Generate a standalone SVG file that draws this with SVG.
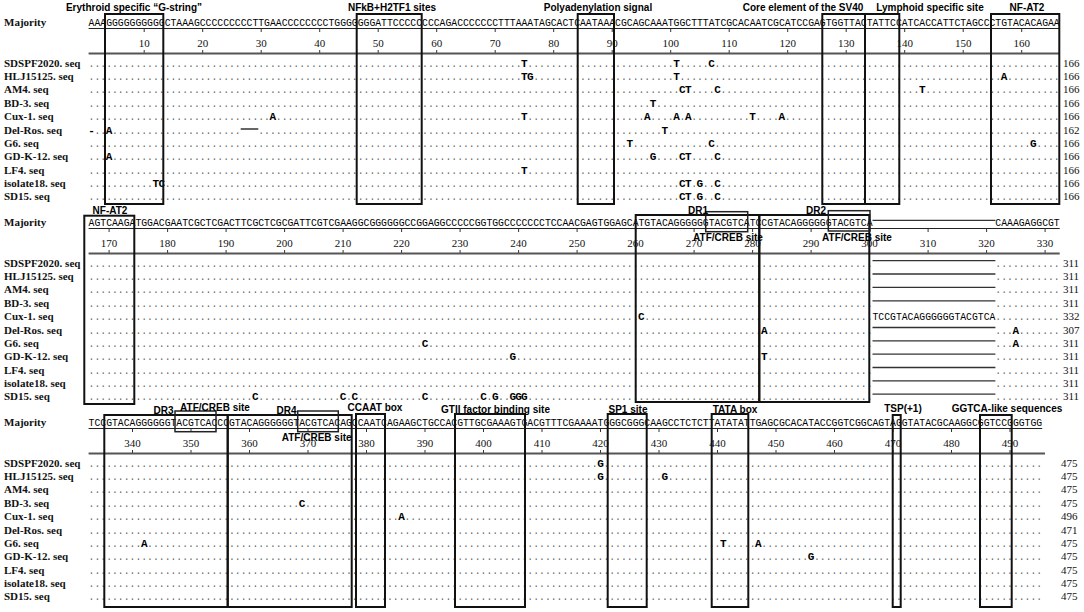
<svg xmlns="http://www.w3.org/2000/svg" width="1084" height="612" viewBox="0 0 1084 612">
<style>
.site{font-family:"Liberation Sans",Arial,sans-serif;font-weight:bold;font-size:10px;fill:#000;text-anchor:middle}
.lab{font-family:"Liberation Serif","Times New Roman",serif;font-size:11px;font-weight:bold;fill:#111}
.num{font-family:"Liberation Serif","Times New Roman",serif;font-size:11px;fill:#111;text-anchor:middle}
.cnt{font-family:"Liberation Serif","Times New Roman",serif;font-size:11px;fill:#111}
.seq{font-family:"Liberation Mono","Courier New",monospace;font-size:11px;fill:#000}
.dots{font-family:"Liberation Mono","Courier New",monospace;font-size:11px;fill:#666}
.m{font-family:"Liberation Mono","Courier New",monospace;font-size:11px;font-weight:bold;fill:#000;text-anchor:middle}
.h{fill:#fff}
.box{fill:none;stroke:#111;stroke-width:2}
.abox{fill:none;stroke:#222;stroke-width:1.5}
.ul{stroke:#222;stroke-width:1}
.rl{stroke:#555;stroke-width:1.8}
.tk{stroke:#333;stroke-width:1;fill:none}
.gap{stroke:#333;stroke-width:1.3}
</style>
<defs>
<text id="d166" class="dots" x="0" y="0" textLength="971.1" lengthAdjust="spacingAndGlyphs">......................................................................................................................................................................</text>
<text id="d134" class="dots" x="0" y="0" textLength="783.9" lengthAdjust="spacingAndGlyphs">......................................................................................................................................</text>
<text id="d11" class="dots" x="0" y="0" textLength="64.35" lengthAdjust="spacingAndGlyphs">...........</text>
<text id="d163" class="dots" x="0" y="0" textLength="953.55" lengthAdjust="spacingAndGlyphs">...................................................................................................................................................................</text>
</defs>
<rect width="1084" height="612" fill="#fff"/>

<g id="block1">
<g id="b1-sites">
<text class="site" x="134" y="11">Erythroid specific “G-string”</text>
<text class="site" x="392" y="11">NFkB+H2TF1 sites</text>
<text class="site" x="598" y="11">Polyadenylation signal</text>
<text class="site" x="803" y="11">Core element of the SV40</text>
<text class="site" x="930" y="11">Lymphoid specific site</text>
<text class="site" x="1027" y="11">NF-AT2</text>
</g>
<g id="b1-majority">
<text class="lab" x="4" y="26.4">Majority</text>
<text class="seq" x="88.6" y="26.4" textLength="971.1" lengthAdjust="spacingAndGlyphs">AAAGGGGGGGGGGCTAAAGCCCCCCCCCTTGAACCCCCCCCTGGGGGGGATTCCCCCCCCAGACCCCCCCTTTAAATAGCACTCAATAAACGCAGCAAATGGCTTTATCGCACAATCGCATCCGAGTGGTTACTATTCCATCACCATTCTAGCCCTGTACACAGAA</text>
<line class="ul" x1="88.6" y1="28.5" x2="1059.7" y2="28.5"/>
<path class="tk" d="M144.2 28.5v3.5M144.2 50v3.5M202.7 28.5v3.5M202.7 50v3.5M261.2 28.5v3.5M261.2 50v3.5M319.7 28.5v3.5M319.7 50v3.5M378.2 28.5v3.5M378.2 50v3.5M436.7 28.5v3.5M436.7 50v3.5M495.2 28.5v3.5M495.2 50v3.5M553.7 28.5v3.5M553.7 50v3.5M612.2 28.5v3.5M612.2 50v3.5M670.7 28.5v3.5M670.7 50v3.5M729.2 28.5v3.5M729.2 50v3.5M787.7 28.5v3.5M787.7 50v3.5M846.2 28.5v3.5M846.2 50v3.5M904.7 28.5v3.5M904.7 50v3.5M963.2 28.5v3.5M963.2 50v3.5M1021.7 28.5v3.5M1021.7 50v3.5"/>
<line class="rl" x1="88.6" y1="53.5" x2="1059.7" y2="53.5"/>
<text class="num" x="144.2" y="46.5">10</text><text class="num" x="202.7" y="46.5">20</text><text class="num" x="261.2" y="46.5">30</text><text class="num" x="319.7" y="46.5">40</text><text class="num" x="378.2" y="46.5">50</text><text class="num" x="436.7" y="46.5">60</text><text class="num" x="495.2" y="46.5">70</text><text class="num" x="553.7" y="46.5">80</text><text class="num" x="612.2" y="46.5">90</text><text class="num" x="670.7" y="46.5">100</text><text class="num" x="729.2" y="46.5">110</text><text class="num" x="787.7" y="46.5">120</text><text class="num" x="846.2" y="46.5">130</text><text class="num" x="904.7" y="46.5">140</text><text class="num" x="963.2" y="46.5">150</text><text class="num" x="1021.7" y="46.5">160</text>
</g>
<g id="b1-sdspf2020" transform="translate(0,66.7)"><text class="lab" x="4" y="0">SDSPF2020. seq</text><use href="#d166" x="88.6" y="0"/><rect class="h" x="521.5" y="-2.6" width="5.8" height="3.4"/><text class="m" x="524.4" y="0">T</text><rect class="h" x="673.6" y="-2.6" width="5.8" height="3.4"/><text class="m" x="676.5" y="0">T</text><rect class="h" x="708.7" y="-2.6" width="5.8" height="3.4"/><text class="m" x="711.6" y="0">C</text><text class="cnt" x="1063" y="0">166</text></g>
<g id="b1-hlj15125" transform="translate(0,80)"><text class="lab" x="4" y="0">HLJ15125. seq</text><use href="#d166" x="88.6" y="0"/><rect class="h" x="521.5" y="-2.6" width="11.7" height="3.4"/><text class="m" x="524.4" y="0">T</text><text class="m" x="530.3" y="0">G</text><rect class="h" x="673.6" y="-2.6" width="5.8" height="3.4"/><text class="m" x="676.5" y="0">T</text><rect class="h" x="1001.2" y="-2.6" width="5.8" height="3.4"/><text class="m" x="1004.1" y="0">A</text><text class="cnt" x="1063" y="0">166</text></g>
<g id="b1-am4" transform="translate(0,93.4)"><text class="lab" x="4" y="0">AM4. seq</text><use href="#d166" x="88.6" y="0"/><rect class="h" x="679.5" y="-2.6" width="11.7" height="3.4"/><text class="m" x="682.4" y="0">C</text><text class="m" x="688.2" y="0">T</text><rect class="h" x="714.6" y="-2.6" width="5.8" height="3.4"/><text class="m" x="717.5" y="0">C</text><rect class="h" x="919.3" y="-2.6" width="5.8" height="3.4"/><text class="m" x="922.2" y="0">T</text><text class="cnt" x="1063" y="0">166</text></g>
<g id="b1-bd3" transform="translate(0,106.8)"><text class="lab" x="4" y="0">BD-3. seq</text><use href="#d166" x="88.6" y="0"/><rect class="h" x="650.2" y="-2.6" width="5.8" height="3.4"/><text class="m" x="653.1" y="0">T</text><text class="cnt" x="1063" y="0">166</text></g>
<g id="b1-cux1" transform="translate(0,120.1)"><text class="lab" x="4" y="0">Cux-1. seq</text><use href="#d166" x="88.6" y="0"/><rect class="h" x="270" y="-2.6" width="5.8" height="3.4"/><text class="m" x="272.9" y="0">A</text><rect class="h" x="521.5" y="-2.6" width="5.8" height="3.4"/><text class="m" x="524.4" y="0">T</text><rect class="h" x="644.4" y="-2.6" width="5.8" height="3.4"/><text class="m" x="647.3" y="0">A</text><rect class="h" x="673.6" y="-2.6" width="5.8" height="3.4"/><text class="m" x="676.5" y="0">A</text><rect class="h" x="685.3" y="-2.6" width="5.8" height="3.4"/><text class="m" x="688.2" y="0">A</text><rect class="h" x="749.7" y="-2.6" width="5.8" height="3.4"/><text class="m" x="752.6" y="0">T</text><rect class="h" x="778.9" y="-2.6" width="5.8" height="3.4"/><text class="m" x="781.8" y="0">A</text><text class="cnt" x="1063" y="0">166</text></g>
<g id="b1-delros" transform="translate(0,133.5)"><text class="lab" x="4" y="0">Del-Ros. seq</text><use href="#d166" x="88.6" y="0"/><rect class="h" x="88.6" y="-2.6" width="5.8" height="3.4"/><text class="m" x="91.5" y="0">-</text><rect class="h" x="106.2" y="-2.6" width="5.8" height="3.4"/><text class="m" x="109.1" y="0">A</text><rect class="h" x="240.7" y="-2.6" width="17.6" height="3.4"/><line x1="240.7" y1="-4.5" x2="258.3" y2="-4.5" stroke="#000" stroke-width="1.2"/><rect class="h" x="661.9" y="-2.6" width="5.8" height="3.4"/><text class="m" x="664.8" y="0">T</text><text class="cnt" x="1063" y="0">162</text></g>
<g id="b1-g6" transform="translate(0,146.8)"><text class="lab" x="4" y="0">G6. seq</text><use href="#d166" x="88.6" y="0"/><rect class="h" x="626.8" y="-2.6" width="5.8" height="3.4"/><text class="m" x="629.7" y="0">T</text><rect class="h" x="708.7" y="-2.6" width="5.8" height="3.4"/><text class="m" x="711.6" y="0">C</text><rect class="h" x="1030.5" y="-2.6" width="5.8" height="3.4"/><text class="m" x="1033.4" y="0">G</text><text class="cnt" x="1063" y="0">166</text></g>
<g id="b1-gdk12" transform="translate(0,160.2)"><text class="lab" x="4" y="0">GD-K-12. seq</text><use href="#d166" x="88.6" y="0"/><rect class="h" x="106.2" y="-2.6" width="5.8" height="3.4"/><text class="m" x="109.1" y="0">A</text><rect class="h" x="650.2" y="-2.6" width="5.8" height="3.4"/><text class="m" x="653.1" y="0">G</text><rect class="h" x="679.5" y="-2.6" width="11.7" height="3.4"/><text class="m" x="682.4" y="0">C</text><text class="m" x="688.2" y="0">T</text><rect class="h" x="714.6" y="-2.6" width="5.8" height="3.4"/><text class="m" x="717.5" y="0">C</text><text class="cnt" x="1063" y="0">166</text></g>
<g id="b1-lf4" transform="translate(0,173.5)"><text class="lab" x="4" y="0">LF4. seq</text><use href="#d166" x="88.6" y="0"/><rect class="h" x="521.5" y="-2.6" width="5.8" height="3.4"/><text class="m" x="524.4" y="0">T</text><text class="cnt" x="1063" y="0">166</text></g>
<g id="b1-isolate18" transform="translate(0,186.9)"><text class="lab" x="4" y="0">isolate18. seq</text><use href="#d166" x="88.6" y="0"/><rect class="h" x="153" y="-2.6" width="11.7" height="3.4"/><text class="m" x="155.9" y="0">T</text><text class="m" x="161.7" y="0">C</text><rect class="h" x="679.5" y="-2.6" width="11.7" height="3.4"/><text class="m" x="682.4" y="0">C</text><text class="m" x="688.2" y="0">T</text><rect class="h" x="697" y="-2.6" width="5.8" height="3.4"/><text class="m" x="699.9" y="0">G</text><rect class="h" x="714.6" y="-2.6" width="5.8" height="3.4"/><text class="m" x="717.5" y="0">C</text><text class="cnt" x="1063" y="0">166</text></g>
<g id="b1-sd15" transform="translate(0,200.2)"><text class="lab" x="4" y="0">SD15. seq</text><use href="#d166" x="88.6" y="0"/><rect class="h" x="679.5" y="-2.6" width="11.7" height="3.4"/><text class="m" x="682.4" y="0">C</text><text class="m" x="688.2" y="0">T</text><rect class="h" x="697" y="-2.6" width="5.8" height="3.4"/><text class="m" x="699.9" y="0">G</text><rect class="h" x="714.6" y="-2.6" width="5.8" height="3.4"/><text class="m" x="717.5" y="0">C</text><text class="cnt" x="1063" y="0">166</text></g>
<g id="b1-boxes">
<rect class="box" x="105" y="14" width="58.3" height="190"/>
<rect class="box" x="356.7" y="14" width="65" height="190"/>
<rect class="box" x="577.7" y="14" width="36.3" height="190"/>
<rect class="box" x="822.3" y="14" width="42.7" height="190"/>
<rect class="box" x="865" y="14" width="34.3" height="190"/>
<rect class="box" x="991" y="14" width="68.3" height="190"/>
</g>
</g>

<g id="block2" transform="translate(0,200)">
<g id="b2-majority">
<text class="lab" x="4" y="26.4">Majority</text>
<text class="seq" x="88.6" y="26.4" textLength="783.9" lengthAdjust="spacingAndGlyphs">AGTCAAGATGGACGAATCGCTCGACTTCGCTCGCGATTCGTCGAAGGCGGGGGGCCGGAGGCCCCCGGTGGCCCCCCCTCCAACGAGTGGAGCATGTACAGGGGGGTACGTCATCCGTACAGGGGGGTACGTCA</text>
<line class="gap" x1="872.5" y1="20.4" x2="995.4" y2="20.4"/>
<text class="seq" x="995.35" y="26.4" textLength="64.35" lengthAdjust="spacingAndGlyphs">CAAAGAGGCGT</text>
<line class="ul" x1="88.6" y1="28.5" x2="1059.7" y2="28.5"/>
<path class="tk" d="M109.1 28.5v3.5M109.1 50v3.5M167.6 28.5v3.5M167.6 50v3.5M226.1 28.5v3.5M226.1 50v3.5M284.6 28.5v3.5M284.6 50v3.5M343.1 28.5v3.5M343.1 50v3.5M401.6 28.5v3.5M401.6 50v3.5M460.1 28.5v3.5M460.1 50v3.5M518.6 28.5v3.5M518.6 50v3.5M577.1 28.5v3.5M577.1 50v3.5M635.6 28.5v3.5M635.6 50v3.5M694.1 28.5v3.5M694.1 50v3.5M752.6 28.5v3.5M752.6 50v3.5M811.1 28.5v3.5M811.1 50v3.5M869.6 28.5v3.5M869.6 50v3.5M928.1 28.5v3.5M928.1 50v3.5M986.6 28.5v3.5M986.6 50v3.5M1045.1 28.5v3.5M1045.1 50v3.5"/>
<line class="rl" x1="88.6" y1="53.5" x2="1059.7" y2="53.5"/>
<text class="num" x="109.1" y="46.5">170</text><text class="num" x="167.6" y="46.5">180</text><text class="num" x="226.1" y="46.5">190</text><text class="num" x="284.6" y="46.5">200</text><text class="num" x="343.1" y="46.5">210</text><text class="num" x="401.6" y="46.5">220</text><text class="num" x="460.1" y="46.5">230</text><text class="num" x="518.6" y="46.5">240</text><text class="num" x="577.1" y="46.5">250</text><text class="num" x="635.6" y="46.5">260</text><text class="num" x="694.1" y="46.5">270</text><text class="num" x="752.6" y="46.5">280</text><text class="num" x="811.1" y="46.5">290</text><text class="num" x="869.6" y="46.5">300</text><text class="num" x="928.1" y="46.5">310</text><text class="num" x="986.6" y="46.5">320</text><text class="num" x="1045.1" y="46.5">330</text>
</g>
<g id="b2-sdspf2020" transform="translate(0,66.7)"><text class="lab" x="4" y="0">SDSPF2020. seq</text><use href="#d134" x="88.6" y="0"/><line class="gap" x1="872.5" y1="-6" x2="995.4" y2="-6"/><use href="#d11" x="995.35" y="0"/><text class="cnt" x="1063" y="0">311</text></g>
<g id="b2-hlj15125" transform="translate(0,80)"><text class="lab" x="4" y="0">HLJ15125. seq</text><use href="#d134" x="88.6" y="0"/><line class="gap" x1="872.5" y1="-6" x2="995.4" y2="-6"/><use href="#d11" x="995.35" y="0"/><text class="cnt" x="1063" y="0">311</text></g>
<g id="b2-am4" transform="translate(0,93.4)"><text class="lab" x="4" y="0">AM4. seq</text><use href="#d134" x="88.6" y="0"/><line class="gap" x1="872.5" y1="-6" x2="995.4" y2="-6"/><use href="#d11" x="995.35" y="0"/><text class="cnt" x="1063" y="0">311</text></g>
<g id="b2-bd3" transform="translate(0,106.8)"><text class="lab" x="4" y="0">BD-3. seq</text><use href="#d134" x="88.6" y="0"/><line class="gap" x1="872.5" y1="-6" x2="995.4" y2="-6"/><use href="#d11" x="995.35" y="0"/><text class="cnt" x="1063" y="0">311</text></g>
<g id="b2-cux1" transform="translate(0,120.1)"><text class="lab" x="4" y="0">Cux-1. seq</text><use href="#d134" x="88.6" y="0"/><rect class="h" x="638.5" y="-2.6" width="5.8" height="3.4"/><text class="m" x="641.4" y="0">C</text><text class="seq" x="872.5" y="0" textLength="122.85" lengthAdjust="spacingAndGlyphs">TCCGTACAGGGGGGTACGTCA</text><use href="#d11" x="995.35" y="0"/><text class="cnt" x="1063" y="0">332</text></g>
<g id="b2-delros" transform="translate(0,133.5)"><text class="lab" x="4" y="0">Del-Ros. seq</text><use href="#d134" x="88.6" y="0"/><rect class="h" x="761.4" y="-2.6" width="5.8" height="3.4"/><text class="m" x="764.3" y="0">A</text><line class="gap" x1="872.5" y1="-6" x2="995.4" y2="-6"/><use href="#d11" x="995.35" y="0"/><rect class="h" x="1012.9" y="-2.6" width="5.8" height="3.4"/><text class="m" x="1015.8" y="0">A</text><text class="cnt" x="1063" y="0">307</text></g>
<g id="b2-g6" transform="translate(0,146.8)"><text class="lab" x="4" y="0">G6. seq</text><use href="#d134" x="88.6" y="0"/><rect class="h" x="422.1" y="-2.6" width="5.8" height="3.4"/><text class="m" x="425" y="0">C</text><line class="gap" x1="872.5" y1="-6" x2="995.4" y2="-6"/><use href="#d11" x="995.35" y="0"/><rect class="h" x="1012.9" y="-2.6" width="5.8" height="3.4"/><text class="m" x="1015.8" y="0">A</text><text class="cnt" x="1063" y="0">311</text></g>
<g id="b2-gdk12" transform="translate(0,160.2)"><text class="lab" x="4" y="0">GD-K-12. seq</text><use href="#d134" x="88.6" y="0"/><rect class="h" x="509.8" y="-2.6" width="5.8" height="3.4"/><text class="m" x="512.7" y="0">G</text><rect class="h" x="761.4" y="-2.6" width="5.8" height="3.4"/><text class="m" x="764.3" y="0">T</text><line class="gap" x1="872.5" y1="-6" x2="995.4" y2="-6"/><use href="#d11" x="995.35" y="0"/><text class="cnt" x="1063" y="0">311</text></g>
<g id="b2-lf4" transform="translate(0,173.5)"><text class="lab" x="4" y="0">LF4. seq</text><use href="#d134" x="88.6" y="0"/><line class="gap" x1="872.5" y1="-6" x2="995.4" y2="-6"/><use href="#d11" x="995.35" y="0"/><text class="cnt" x="1063" y="0">311</text></g>
<g id="b2-isolate18" transform="translate(0,186.9)"><text class="lab" x="4" y="0">isolate18. seq</text><use href="#d134" x="88.6" y="0"/><line class="gap" x1="872.5" y1="-6" x2="995.4" y2="-6"/><use href="#d11" x="995.35" y="0"/><text class="cnt" x="1063" y="0">311</text></g>
<g id="b2-sd15" transform="translate(0,200.2)"><text class="lab" x="4" y="0">SD15. seq</text><use href="#d134" x="88.6" y="0"/><rect class="h" x="252.4" y="-2.6" width="5.8" height="3.4"/><text class="m" x="255.3" y="0">C</text><rect class="h" x="340.2" y="-2.6" width="5.8" height="3.4"/><text class="m" x="343.1" y="0">C</text><rect class="h" x="351.9" y="-2.6" width="5.8" height="3.4"/><text class="m" x="354.8" y="0">C</text><rect class="h" x="422.1" y="-2.6" width="5.8" height="3.4"/><text class="m" x="425" y="0">C</text><rect class="h" x="480.6" y="-2.6" width="5.8" height="3.4"/><text class="m" x="483.5" y="0">C</text><rect class="h" x="492.3" y="-2.6" width="5.8" height="3.4"/><text class="m" x="495.2" y="0">G</text><rect class="h" x="509.8" y="-2.6" width="17.5" height="3.4"/><text class="m" x="512.7" y="0">G</text><text class="m" x="518.6" y="0">G</text><text class="m" x="524.4" y="0">G</text><line class="gap" x1="872.5" y1="-6" x2="995.4" y2="-6"/><use href="#d11" x="995.35" y="0"/><text class="cnt" x="1063" y="0">311</text></g>
<g id="b2-sites">
<rect class="box" x="84.3" y="15.7" width="50" height="188.3"/>
<text class="site" x="110" y="13.5">NF-AT2</text>
<rect class="box" x="635.7" y="15" width="123.6" height="187"/>
<rect class="box" x="759.3" y="15" width="110" height="187"/>
<rect class="abox" x="705.7" y="11.7" width="42" height="20"/>
<rect class="abox" x="828.3" y="10.7" width="41.7" height="20.3"/>
<text class="site" x="698" y="13.5">DR1</text>
<text class="site" x="816" y="13.5">DR2</text>
<text class="site" x="728" y="40.5">ATF/CREB site</text>
<text class="site" x="857" y="40.5">ATF/CREB site</text>
</g>
</g>

<g id="block3" transform="translate(0,400)">
<g id="b3-majority">
<text class="lab" x="4" y="26.4">Majority</text>
<text class="seq" x="88.6" y="26.4" textLength="953.55" lengthAdjust="spacingAndGlyphs">TCCGTACAGGGGGGTACGTCACCCGTACAGGGGGGTACGTCACAGCCAATCAGAAGCTGCCACGTTGCGAAAGTGACGTTTCGAAAATGGGCGGGCAAGCCTCTCTTATATATTGAGCGCACATACCGGTCGGCAGTAGGTATACGCAAGGCGGTCCGGGTGG</text>
<line class="ul" x1="88.6" y1="28.5" x2="1042.2" y2="28.5"/>
<path class="tk" d="M132.5 28.5v3.5M132.5 50v3.5M191 28.5v3.5M191 50v3.5M249.5 28.5v3.5M249.5 50v3.5M308 28.5v3.5M308 50v3.5M366.5 28.5v3.5M366.5 50v3.5M425 28.5v3.5M425 50v3.5M483.5 28.5v3.5M483.5 50v3.5M542 28.5v3.5M542 50v3.5M600.5 28.5v3.5M600.5 50v3.5M659 28.5v3.5M659 50v3.5M717.5 28.5v3.5M717.5 50v3.5M776 28.5v3.5M776 50v3.5M834.5 28.5v3.5M834.5 50v3.5M893 28.5v3.5M893 50v3.5M951.5 28.5v3.5M951.5 50v3.5M1010 28.5v3.5M1010 50v3.5"/>
<line class="rl" x1="88.6" y1="53.5" x2="1045" y2="53.5"/>
<text class="num" x="132.5" y="46.5">340</text><text class="num" x="191" y="46.5">350</text><text class="num" x="249.5" y="46.5">360</text><text class="num" x="308" y="46.5">370</text><text class="num" x="366.5" y="46.5">380</text><text class="num" x="425" y="46.5">390</text><text class="num" x="483.5" y="46.5">400</text><text class="num" x="542" y="46.5">410</text><text class="num" x="600.5" y="46.5">420</text><text class="num" x="659" y="46.5">430</text><text class="num" x="717.5" y="46.5">440</text><text class="num" x="776" y="46.5">450</text><text class="num" x="834.5" y="46.5">460</text><text class="num" x="893" y="46.5">470</text><text class="num" x="951.5" y="46.5">480</text><text class="num" x="1010" y="46.5">490</text>
</g>
<g id="b3-sdspf2020" transform="translate(0,66.7)"><text class="lab" x="4" y="0">SDSPF2020. seq</text><use href="#d163" x="88.6" y="0"/><rect class="h" x="597.6" y="-2.6" width="5.8" height="3.4"/><text class="m" x="600.5" y="0">G</text><text class="cnt" x="1061" y="0">475</text></g>
<g id="b3-hlj15125" transform="translate(0,80)"><text class="lab" x="4" y="0">HLJ15125. seq</text><use href="#d163" x="88.6" y="0"/><rect class="h" x="597.6" y="-2.6" width="5.8" height="3.4"/><text class="m" x="600.5" y="0">G</text><rect class="h" x="661.9" y="-2.6" width="5.8" height="3.4"/><text class="m" x="664.8" y="0">G</text><text class="cnt" x="1061" y="0">475</text></g>
<g id="b3-am4" transform="translate(0,93.4)"><text class="lab" x="4" y="0">AM4. seq</text><use href="#d163" x="88.6" y="0"/><text class="cnt" x="1061" y="0">475</text></g>
<g id="b3-bd3" transform="translate(0,106.8)"><text class="lab" x="4" y="0">BD-3. seq</text><use href="#d163" x="88.6" y="0"/><rect class="h" x="299.2" y="-2.6" width="5.8" height="3.4"/><text class="m" x="302.1" y="0">C</text><text class="cnt" x="1061" y="0">475</text></g>
<g id="b3-cux1" transform="translate(0,120.1)"><text class="lab" x="4" y="0">Cux-1. seq</text><use href="#d163" x="88.6" y="0"/><rect class="h" x="398.7" y="-2.6" width="5.8" height="3.4"/><text class="m" x="401.6" y="0">A</text><text class="cnt" x="1061" y="0">496</text></g>
<g id="b3-delros" transform="translate(0,133.5)"><text class="lab" x="4" y="0">Del-Ros. seq</text><use href="#d163" x="88.6" y="0"/><text class="cnt" x="1061" y="0">471</text></g>
<g id="b3-g6" transform="translate(0,146.8)"><text class="lab" x="4" y="0">G6. seq</text><use href="#d163" x="88.6" y="0"/><rect class="h" x="141.3" y="-2.6" width="5.8" height="3.4"/><text class="m" x="144.2" y="0">A</text><rect class="h" x="720.4" y="-2.6" width="5.8" height="3.4"/><text class="m" x="723.3" y="0">T</text><rect class="h" x="755.5" y="-2.6" width="5.8" height="3.4"/><text class="m" x="758.4" y="0">A</text><text class="cnt" x="1061" y="0">475</text></g>
<g id="b3-gdk12" transform="translate(0,160.2)"><text class="lab" x="4" y="0">GD-K-12. seq</text><use href="#d163" x="88.6" y="0"/><rect class="h" x="808.2" y="-2.6" width="5.8" height="3.4"/><text class="m" x="811.1" y="0">G</text><text class="cnt" x="1061" y="0">475</text></g>
<g id="b3-lf4" transform="translate(0,173.5)"><text class="lab" x="4" y="0">LF4. seq</text><use href="#d163" x="88.6" y="0"/><text class="cnt" x="1061" y="0">475</text></g>
<g id="b3-isolate18" transform="translate(0,186.9)"><text class="lab" x="4" y="0">isolate18. seq</text><use href="#d163" x="88.6" y="0"/><text class="cnt" x="1061" y="0">475</text></g>
<g id="b3-sd15" transform="translate(0,200.2)"><text class="lab" x="4" y="0">SD15. seq</text><use href="#d163" x="88.6" y="0"/><text class="cnt" x="1061" y="0">475</text></g>
<g id="b3-sites">
<rect class="box" x="104.3" y="15" width="123.4" height="192"/>
<rect class="box" x="227.7" y="15" width="124" height="192"/>
<rect class="abox" x="175" y="11" width="41" height="20.7"/>
<rect class="abox" x="297.7" y="11" width="40.6" height="20.7"/>
<rect class="box" x="356" y="14" width="29" height="193"/>
<rect class="box" x="455" y="14" width="70" height="193"/>
<rect class="box" x="607.7" y="14" width="39" height="193"/>
<rect class="box" x="711.7" y="14" width="36.6" height="193"/>
<rect class="box" x="892.7" y="15" width="8" height="192"/>
<rect class="box" x="980" y="15" width="31.7" height="192"/>
<text class="site" x="163.5" y="13.7">DR3</text>
<text class="site" x="215" y="10.5">ATF/CREB site</text>
<text class="site" x="286.5" y="13.7">DR4</text>
<text class="site" x="316.7" y="40.5">ATF/CREB site</text>
<text class="site" x="375" y="10.5">CCAAT box</text>
<text class="site" x="495.5" y="12.5">GTII factor binding site</text>
<text class="site" x="628" y="13">SP1 site</text>
<text class="site" x="735" y="13">TATA box</text>
<text class="site" x="903" y="12">TSP(+1)</text>
<text class="site" x="1007" y="12">GGTCA-like sequences</text>
</g>
</g>
</svg>
